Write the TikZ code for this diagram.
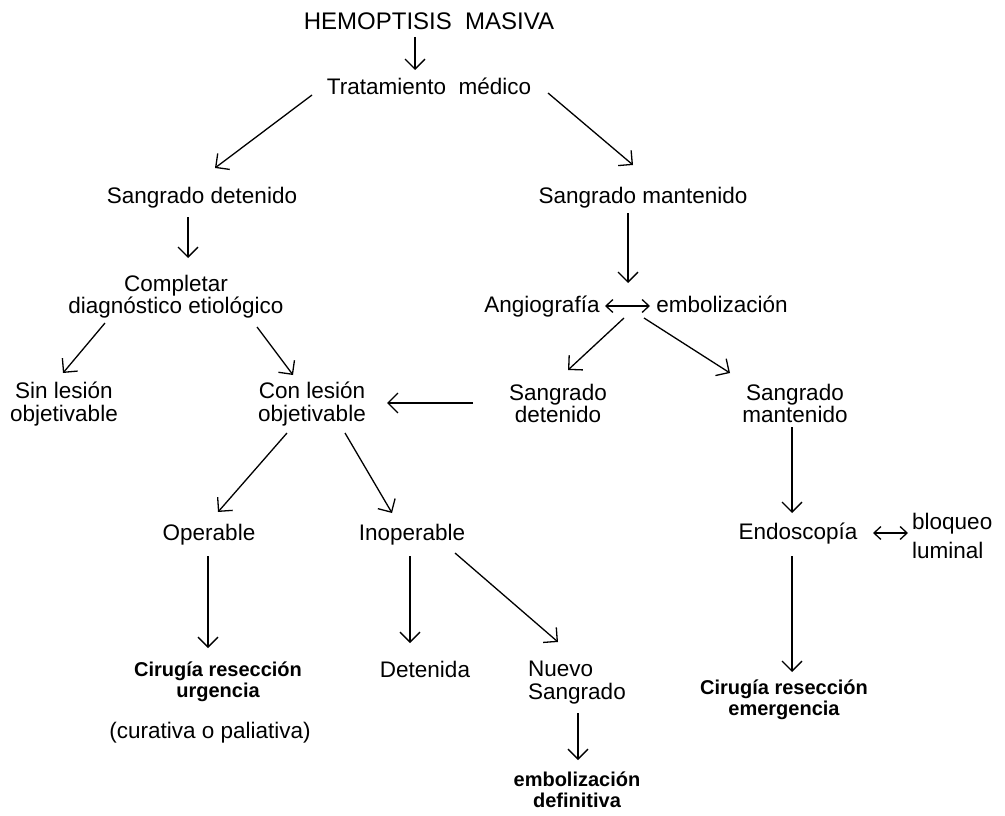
\documentclass[tikz,border=0pt]{standalone}
\usepackage{fontspec}
\setmainfont{Liberation Sans}
\usetikzlibrary{arrows.meta,calc}
\begin{document}
\begin{tikzpicture}[x=1pt,y=-1pt,
  txt/.style={inner sep=0pt, font=\fontsize{22.5}{20}\selectfont},
  txtm/.style={inner sep=0pt, font=\fontsize{22.5}{20}\selectfont, align=center},
  txtw/.style={inner sep=0pt, font=\fontsize{22.5}{23}\selectfont, align=center},
  bld/.style={inner sep=0pt, font=\fontsize{20}{21}\selectfont\bfseries, align=center},
  arr/.style={line width=1.3pt, -{Straight Barb[length=10pt,width=20pt]}},
  dbl/.style={line width=1.3pt, {Straight Barb[length=7pt,width=13pt]}-{Straight Barb[length=7pt,width=13pt]}}]
\useasboundingbox[fill=white] (0,0) rectangle (1005,816);

% nodes
\node[txt, anchor=base, font=\fontsize{24}{24}\selectfont] (hem) at (429,30) {HEMOPTISIS\ \ MASIVA};
\node[txt, anchor=base] (trat) at (429,95) {Tratamiento\ \ médico};
\node[txt, anchor=base] (sdl) at (202,203) {Sangrado detenido};
\node[txt, anchor=base] (sml) at (643,203) {Sangrado mantenido};
\node[txtm] (comp) at (176,297) {Completar\\diagnóstico etiológico};
\node[txt, anchor=base] (angio) at (542,312) {Angiografía};
\node[txt, anchor=base] (embol) at (722,312) {embolización};
\coordinate (ae) at (628,306);
\node[txtw] (sin) at (64,404) {Sin lesión\\objetivable};
\node[txtw] (con) at (312,404) {Con lesión\\objetivable};
\node[txtm] (sdm) at (558,403) {Sangrado\\detenido};
\node[txtm] (smm) at (795,403) {Sangrado\\mantenido};
\node[txt, anchor=base] (oper) at (209,540) {Operable};
\node[txt, anchor=base] (inop) at (412,540) {Inoperable};
\node[txt, anchor=base] (endo) at (798,539) {Endoscopía};
\node[inner sep=0pt, font=\fontsize{22.5}{29}\selectfont, align=left, anchor=west] (bloq) at (912,536) {bloqueo\\luminal};
\node[bld] (cru) at (218,682) {Cirugía resección\\urgencia};
\node[txt, anchor=base] (cur) at (210,738) {(curativa o paliativa)};
\node[txt, anchor=base] (det) at (425,677) {Detenida};
\node[txtw, align=left, anchor=west] (nue) at (528,683) {Nuevo\\Sangrado};
\node[bld] (emb) at (577,790) {embolización\\definitiva};
\node[bld] (cre) at (784,700) {Cirugía resección\\emergencia};

% connectors
\draw[arr] ($(hem.base)+(-14,7)$) -- ($(trat.base)+(-14,-25)$);
\draw[arr] ($(trat.base)+(-117,0)$) -- ($(sdl.base)+(13,-35)$);
\draw[arr] ($(trat.base)+(119,-2)$) -- ($(sml.base)+(-10,-38)$);
\draw[arr] ($(sdl.base)+(-14,14)$) -- ($(comp.center)+(12,-39)$);
\draw[arr] ($(sml.base)+(-15,10)$) -- ($(ae)+(0,-23)$);
\draw[dbl] ($(angio.base)+(63,-6)$) -- ($(embol.base)+(-72,-6)$);
\draw[arr] ($(comp.center)+(-71,26)$) -- ($(sin.center)+(-1,-31)$);
\draw[arr] ($(comp.center)+(81,30)$) -- ($(con.center)+(-19,-29)$);
\draw[arr] ($(ae)+(-4,12)$) -- ($(sdm.center)+(10,-33)$);
\draw[arr] ($(ae)+(16,12)$) -- ($(smm.center)+(-65,-30)$);
\draw[arr] ($(sdm.center)+(-85,0)$) -- ($(con.center)+(75,-1)$);
\draw[arr] ($(con.center)+(-25,29)$) -- ($(oper.base)+(9,-28)$);
\draw[arr] ($(con.center)+(33,29)$) -- ($(inop.base)+(-20,-27)$);
\draw[arr] ($(smm.center)+(-3,24)$) -- ($(endo.base)+(-6,-26)$);
\draw[dbl] ($(endo.base)+(75,-6)$) -- ($(bloq.west)+(-4,-3)$);
\draw[arr] ($(oper.base)+(-1,16)$) -- ($(cru.center)+(-10,-34)$);
\draw[arr] ($(inop.base)+(-2,16)$) -- ($(det.base)+(-15,-34)$);
\draw[arr] ($(inop.base)+(43,13)$) -- ($(nue.west)+(30,-41)$);
\draw[arr] ($(endo.base)+(-6,17)$) -- ($(cre.center)+(8,-28)$);
\draw[arr] ($(nue.west)+(50,30)$) -- ($(emb.center)+(1,-30)$);
\end{tikzpicture}
\end{document}
